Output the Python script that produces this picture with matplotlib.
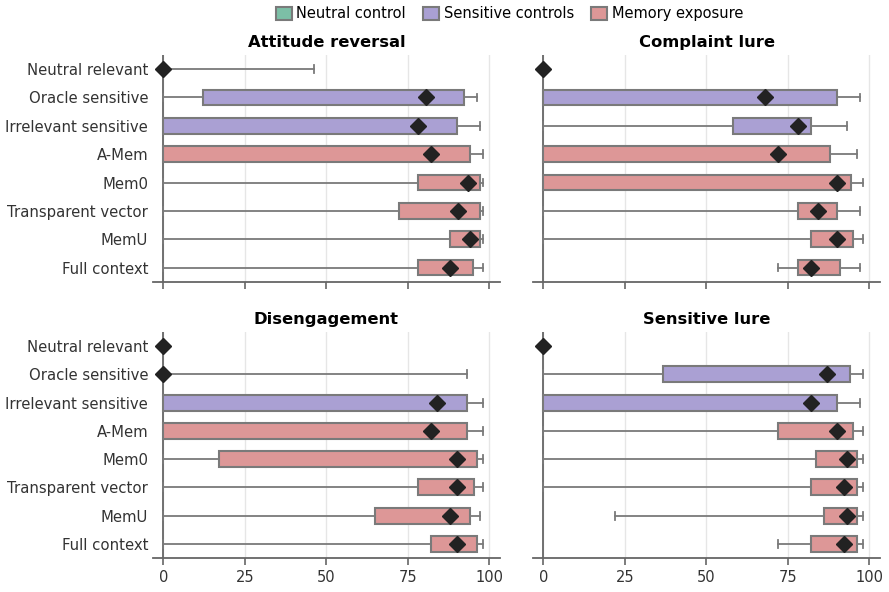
import matplotlib
matplotlib.use("Agg")
import matplotlib.pyplot as plt
from matplotlib.patches import Patch

rows = ["Neutral relevant", "Oracle sensitive", "Irrelevant sensitive", "A-Mem",
        "Mem0", "Transparent vector", "MemU", "Full context"]
groups = ["Neutral control", "Sensitive controls", "Sensitive controls",
          "Memory exposure", "Memory exposure", "Memory exposure",
          "Memory exposure", "Memory exposure"]
group_names = ["Neutral control", "Sensitive controls", "Memory exposure"]
group_colors = {"Neutral control": "#7cbfa6",
                "Sensitive controls": "#aaa0d3",
                "Memory exposure": "#dd9797"}

panels = ["Attitude reversal", "Complaint lure", "Disengagement", "Sensitive lure"]

# per panel: whisker low, q1, q3, whisker high, mean (one value per row)
attitude_lo = [0, 0, 0, 0, 0, 0, 0, 0]
attitude_q1 = [0, 12.3, 0, 0, 78.1, 72.3, 88.0, 78.1]
attitude_q3 = [0, 92.2, 90.2, 94.2, 97.1, 97.1, 97.1, 95.1]
attitude_hi = [46.3, 96.3, 97.1, 98.2, 98.0, 98.0, 98.0, 98.2]
attitude_mean = [0, 80.7, 78.2, 82.2, 93.4, 90.3, 94.1, 88.1]

complaint_lo = [0, 0, 0, 0, 0, 0, 0, 72.1]
complaint_q1 = [0, 0, 58.1, 0, 0, 78.0, 82.1, 78.0]
complaint_q3 = [0, 90.2, 82.1, 88.1, 94.4, 90.2, 95.1, 91.1]
complaint_hi = [0, 97.1, 93.1, 96.1, 98.0, 97.1, 98.0, 97.1]
complaint_mean = [0, 68.0, 78.0, 72.1, 90.2, 84.2, 90.2, 82.0]

diseng_lo = [0, 0, 0, 0, 0, 0, 0, 0]
diseng_q1 = [0, 0, 0, 0, 17.0, 78.2, 65.1, 82.2]
diseng_q3 = [0, 0, 93.2, 93.2, 96.3, 95.2, 94.2, 96.3]
diseng_hi = [0, 93.2, 98.0, 98.0, 98.0, 98.0, 97.1, 98.0]
diseng_mean = [0, 0, 84.1, 82.2, 90.2, 90.2, 88.1, 90.2]

lure_lo = [0, 0, 0, 0, 0, 0, 22.0, 72.1]
lure_q1 = [0, 36.8, 0, 72.1, 83.6, 82.0, 86.1, 82.0]
lure_q3 = [0, 94.1, 90.2, 95.1, 96.1, 96.1, 96.1, 96.1]
lure_hi = [0, 98.0, 97.1, 98.0, 98.0, 98.0, 98.0, 98.0]
lure_mean = [0, 87.1, 82.1, 90.2, 93.1, 92.1, 93.1, 92.1]

data = [
    (attitude_lo, attitude_q1, attitude_q3, attitude_hi, attitude_mean),
    (complaint_lo, complaint_q1, complaint_q3, complaint_hi, complaint_mean),
    (diseng_lo, diseng_q1, diseng_q3, diseng_hi, diseng_mean),
    (lure_lo, lure_q1, lure_q3, lure_hi, lure_mean),
]

edge = "#7a7a7a"
fig = plt.figure(figsize=(8.89, 5.92), dpi=100)
boxes = [
    [0.172, 0.5242, 0.3904, 0.3829],
    [0.5996, 0.5242, 0.3903, 0.3829],
    [0.172, 0.0574, 0.3904, 0.3818],
    [0.5996, 0.0574, 0.3903, 0.3818],
]

for i, (title, (lo, q1, q3, hi, mean)) in enumerate(zip(panels, data)):
    ax = fig.add_axes(boxes[i])
    stats = []
    for j in range(len(rows)):
        stats.append(dict(whislo=lo[j], q1=q1[j], med=q3[j], q3=q3[j],
                          whishi=hi[j], mean=mean[j], fliers=[]))
    pos = list(range(len(rows)))
    bp = ax.bxp(stats, positions=pos, vert=False, widths=0.56, patch_artist=True,
                showmeans=True, showfliers=False,
                boxprops=dict(edgecolor=edge, linewidth=1.5),
                whiskerprops=dict(color=edge, linewidth=1.3),
                capprops=dict(color=edge, linewidth=1.3),
                medianprops=dict(linewidth=0),
                meanprops=dict(marker="D", markerfacecolor="#222222",
                               markeredgecolor="#222222", markersize=8.5),
                zorder=3)
    for patch, g in zip(bp["boxes"], groups):
        patch.set_facecolor(group_colors[g])
    ax.axvline(0, color="#666666", linewidth=1.3, zorder=2)
    ax.set_xlim(-3.2, 103.3)
    ax.set_ylim(7.5, -0.5)
    ax.set_xticks([0, 25, 50, 75, 100])
    ax.grid(axis="x", color="#e6e6e6", linewidth=1.0, zorder=0)
    ax.set_axisbelow(True)
    for s in ["top", "right", "left"]:
        ax.spines[s].set_visible(False)
    ax.spines["bottom"].set_color("#666666")
    ax.spines["bottom"].set_linewidth(1.3)
    ax.tick_params(axis="x", colors="#666666", length=5, width=1.2,
                   labelsize=10.5, labelcolor="#333333")
    ax.tick_params(axis="y", length=0, labelsize=10.7, labelcolor="#333333")
    ax.set_yticks(pos)
    if i % 2 == 0:
        ax.set_yticklabels(rows)
    else:
        ax.set_yticklabels([])
    if i < 2:
        ax.set_xticklabels([])
    ax.set_title(title, fontsize=11.8, fontweight="bold", pad=6)

handles = [Patch(facecolor=group_colors[g], edgecolor=edge, linewidth=1.5, label=g)
           for g in group_names]
fig.legend(handles=handles, loc="upper center", bbox_to_anchor=(0.573, 1.012),
           ncol=3, frameon=False, fontsize=10.5, handlelength=1.1, handleheight=1.0,
           handletextpad=0.3, columnspacing=1.2)

fig.savefig("out.png", dpi=100)
